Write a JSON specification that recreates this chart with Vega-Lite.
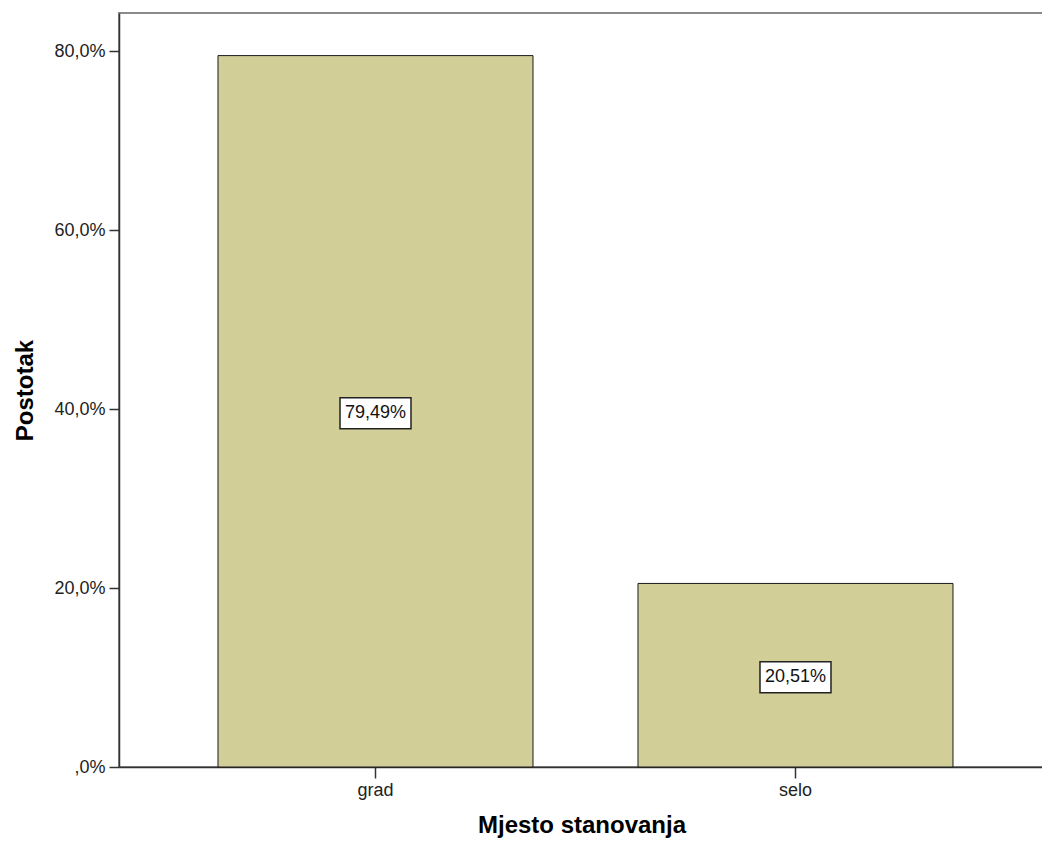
{
  "$schema": "https://vega.github.io/schema/vega-lite/v6.json",
  "autosize": "none",
  "width": 925,
  "height": 754,
  "padding": {"left": 119, "top": 13, "right": 0, "bottom": 80},
  "background": "white",
  "config": {
    "view": {"stroke": "#8a8a8a", "strokeWidth": 2},
    "font": "Liberation Sans",
    "axis": {
      "labelFont": "Liberation Sans",
      "labelFontSize": 18,
      "labelColor": "#222222",
      "titleFont": "Liberation Sans",
      "titleFontSize": 24,
      "titleFontWeight": "bold",
      "titleColor": "#000000",
      "domainColor": "#333333",
      "domainWidth": 1.5,
      "tickColor": "#333333",
      "tickWidth": 1.5,
      "grid": false
    }
  },
  "data": {
    "values": [
      {"mjesto": "grad", "pct": 79.49},
      {"mjesto": "selo", "pct": 20.51}
    ]
  },
  "transform": [
    {"calculate": "datum.pct / 2", "as": "mid"},
    {"calculate": "replace(format(datum.pct, '.2f'), '.', ',') + '%'", "as": "lbl"}
  ],
  "encoding": {
    "x": {
      "field": "mjesto",
      "type": "nominal",
      "sort": null,
      "scale": {"paddingInner": 0.25, "paddingOuter": 0.2262, "align": 0.521},
      "axis": {
        "title": "Mjesto stanovanja",
        "labelAngle": 0,
        "tickSize": 11,
        "labelPadding": 3,
        "titlePadding": 14
      }
    }
  },
  "layer": [
    {
      "mark": {"type": "bar", "fill": "#D2CE98", "stroke": "#1a1a1a", "strokeWidth": 1},
      "encoding": {
        "y": {
          "field": "pct",
          "type": "quantitative",
          "scale": {"domain": [0, 84.25], "nice": false},
          "axis": {
            "title": "Postotak",
            "values": [0, 20, 40, 60, 80],
            "labelExpr": "datum.value == 0 ? ',0%' : replace(format(datum.value, '.1f'), '.', ',') + '%'",
            "tickSize": 10,
            "labelPadding": 4,
            "titlePadding": 16
          }
        }
      }
    },
    {
      "mark": {
        "type": "point",
        "shape": "M-2.29,-1H2.29V1H-2.29Z",
        "size": 961,
        "filled": true,
        "fill": "white",
        "stroke": "#222222",
        "strokeWidth": 1.5,
        "opacity": 1,
        "yOffset": 2
      },
      "encoding": {
        "y": {"field": "mid", "type": "quantitative"}
      }
    },
    {
      "mark": {
        "type": "text",
        "font": "Liberation Sans",
        "fontSize": 18,
        "color": "#111111",
        "baseline": "middle",
        "align": "center",
        "yOffset": 2
      },
      "encoding": {
        "y": {"field": "mid", "type": "quantitative"},
        "text": {"field": "lbl", "type": "nominal"}
      }
    }
  ]
}
